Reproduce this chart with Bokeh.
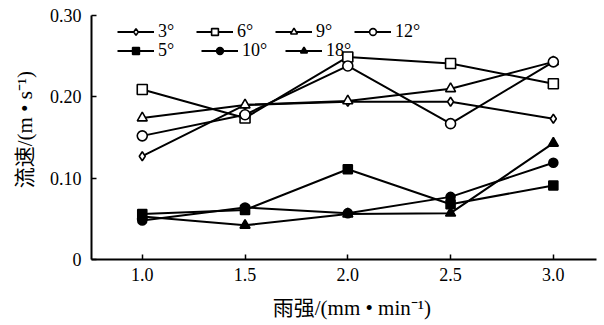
from bokeh.plotting import figure
from bokeh.models import Legend, LegendItem, FixedTicker, Range1d
from bokeh.embed import file_html
from bokeh.resources import INLINE

rain = [1.0, 1.5, 2.0, 2.5, 3.0]
s3 = [0.127, 0.190, 0.194, 0.194, 0.173]
s6 = [0.209, 0.174, 0.249, 0.241, 0.216]
s9 = [0.174, 0.190, 0.195, 0.210, 0.243]
s12 = [0.152, 0.178, 0.238, 0.167, 0.243]
s5 = [0.056, 0.061, 0.111, 0.068, 0.091]
s10 = [0.048, 0.064, 0.057, 0.077, 0.119]
s18 = [0.053, 0.042, 0.056, 0.057, 0.143]

x_ticks = [1.0, 1.5, 2.0, 2.5, 3.0]
x_tick_labels = ["1.0", "1.5", "2.0", "2.5", "3.0"]
y_ticks = [0.0, 0.1, 0.2, 0.3]
y_tick_labels = ["0", "0.10", "0.20", "0.30"]

FONT = "Liberation Serif, Noto Sans CJK SC"
NB = "\u00a0"

p = figure(width=600, height=322, output_backend="svg", toolbar_location=None,
           x_range=Range1d(0.753, 3.21), y_range=Range1d(0, 0.30),
           min_border_left=91, min_border_right=4, min_border_top=15, min_border_bottom=63)
p.outline_line_color = None
p.xgrid.visible = False
p.ygrid.visible = False

series = [
    ("3°", s3, "diamond", "white", 9),
    ("6°", s6, "square", "white", 10),
    ("9°", s9, "triangle", "white", 10),
    ("12°", s12, "circle", "white", 10),
    ("5°", s5, "square", "black", 9),
    ("10°", s10, "circle", "black", 9),
    ("18°", s18, "triangle", "black", 10),
]

items = []
for name, ys, marker, fill, size in series:
    r1 = p.line(rain, ys, line_color="black", line_width=2)
    r2 = p.scatter(rain, ys, marker=marker, size=size, fill_color=fill,
                   line_color="black", line_width=1.6)
    items.append(LegendItem(label=name, renderers=[r1, r2]))

def mk_legend(its, loc, spacing, lw):
    lg = Legend(items=its, orientation="horizontal", location=loc,
                glyph_width=37, glyph_height=17, label_standoff=4,
                label_height=17, label_width=lw, spacing=spacing, padding=0, margin=0,
                border_line_color=None, background_fill_alpha=0,
                label_text_font=FONT, label_text_font_size="18px",
                label_text_color="black")
    return lg

p.add_layout(mk_legend(items[:4], (26, 217), 18, 20))
p.add_layout(mk_legend(items[4:], (26, 198), 13, 30))

for ax in (p.xaxis[0], p.yaxis[0]):
    ax.axis_line_color = "black"
    ax.axis_line_width = 2
    ax.major_tick_line_color = "black"
    ax.major_tick_line_width = 1.5
    ax.major_tick_in = 5
    ax.major_tick_out = 0
    ax.minor_tick_line_color = None
    ax.major_label_text_font = FONT
    ax.major_label_text_font_size = "18px"
    ax.major_label_text_color = "black"
    ax.axis_label_text_font = FONT
    ax.axis_label_text_font_size = "21px"
    ax.axis_label_text_font_style = "normal"
    ax.axis_label_text_color = "black"

p.xaxis.ticker = FixedTicker(ticks=x_ticks)
p.xaxis.major_label_overrides = dict(zip(x_ticks, x_tick_labels))
p.yaxis.ticker = FixedTicker(ticks=y_ticks)
p.yaxis.major_label_overrides = dict(zip(y_ticks, y_tick_labels))
p.xaxis.major_label_standoff = 8
p.yaxis.major_label_standoff = 10
p.xaxis.axis_label = NB * 3 + "雨强/(mm • min⁻¹)"
p.yaxis.axis_label = NB * 3 + "流速/(m • s⁻¹)"
p.xaxis.axis_label_standoff = 12
p.yaxis.axis_label_standoff = 10

open("out.html", "w").write(file_html(p, INLINE))
